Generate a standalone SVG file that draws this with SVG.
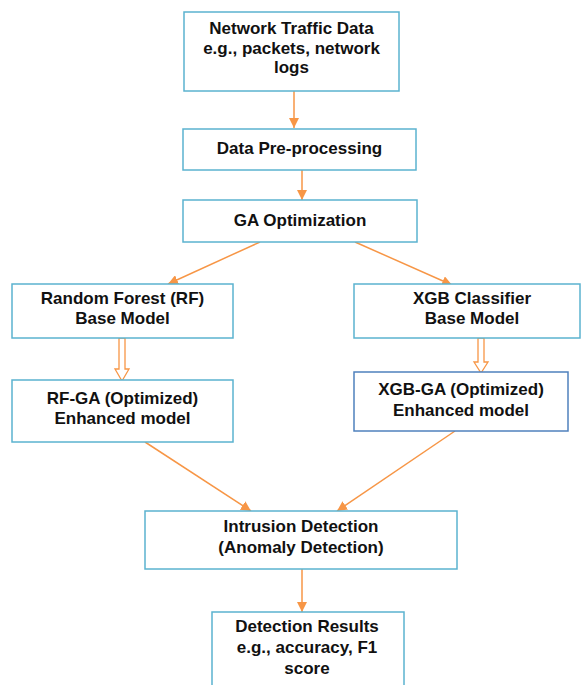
<svg xmlns="http://www.w3.org/2000/svg" width="581" height="685" viewBox="0 0 581 685">
<style>
.box{fill:#ffffff;stroke:#5bb3cf;stroke-width:1.5}
.box2{fill:#ffffff;stroke:#4f81bd;stroke-width:1.5}
.t{font-family:"Liberation Sans",Arial,sans-serif;font-weight:bold;font-size:17px;fill:#111111;text-anchor:middle}
.ln{stroke:#f79646;stroke-width:1.5;fill:none}
.hollow{fill:#ffffff;stroke:#f79646;stroke-width:1.3}
</style>
<defs>
<marker id="ah" viewBox="0 0 10 10" refX="10" refY="5" markerWidth="10" markerHeight="10" markerUnits="userSpaceOnUse" orient="auto">
<path d="M0,0 L10,5 L0,10 z" fill="#f79646"/>
</marker>
</defs>
<rect width="581" height="685" fill="#ffffff"/>
<g id="connectors">
<line class="ln" x1="294" y1="91" x2="294" y2="128" marker-end="url(#ah)"/>
<line class="ln" x1="302" y1="170" x2="302" y2="200" marker-end="url(#ah)"/>
<line class="ln" x1="260" y1="242" x2="168" y2="284" marker-end="url(#ah)"/>
<line class="ln" x1="355" y1="242" x2="452" y2="285" marker-end="url(#ah)"/>
<path class="hollow" d="M119,338 L125,338 L125,369 L129,369 L122,381 L115,369 L119,369 Z"/>
<path class="hollow" d="M478,338 L484,338 L484,362 L488,362 L481,373 L474,362 L478,362 Z"/>
<line class="ln" x1="145" y1="442" x2="251" y2="511" marker-end="url(#ah)"/>
<line class="ln" x1="455" y1="431" x2="337" y2="511" marker-end="url(#ah)"/>
<line class="ln" x1="302" y1="569" x2="302" y2="612" marker-end="url(#ah)"/>
</g>
<g id="n1">
<rect class="box" x="184" y="12" width="215" height="79"/>
<text class="t" x="291.5" y="34">Network Traffic Data</text>
<text class="t" x="291.5" y="54">e.g., packets, network</text>
<text class="t" x="291.5" y="73">logs</text>
</g>
<g id="n2">
<rect class="box" x="183" y="129" width="233" height="41"/>
<text class="t" x="299.5" y="154">Data Pre-processing</text>
</g>
<g id="n3">
<rect class="box" x="183" y="200" width="234" height="42"/>
<text class="t" x="300" y="226">GA Optimization</text>
</g>
<g id="n4">
<rect class="box" x="12" y="284" width="221" height="54"/>
<text class="t" x="122.5" y="304">Random Forest (RF)</text>
<text class="t" x="122.5" y="324">Base Model</text>
</g>
<g id="n5">
<rect class="box" x="354" y="284" width="226" height="54"/>
<text class="t" x="472" y="304">XGB Classifier</text>
<text class="t" x="472" y="324">Base Model</text>
</g>
<g id="n6">
<rect class="box" x="12" y="380" width="221" height="62"/>
<text class="t" x="122.5" y="404">RF-GA (Optimized)</text>
<text class="t" x="122.5" y="424">Enhanced model</text>
</g>
<g id="n7">
<rect class="box2" x="354" y="372" width="214" height="59"/>
<text class="t" x="461" y="395">XGB-GA (Optimized)</text>
<text class="t" x="461" y="415.5">Enhanced model</text>
</g>
<g id="n8">
<rect class="box" x="145" y="511" width="312" height="58"/>
<text class="t" x="301" y="532">Intrusion Detection</text>
<text class="t" x="301" y="553">(Anomaly Detection)</text>
</g>
<g id="n9">
<rect class="box" x="212" y="612" width="192" height="80"/>
<text class="t" x="307" y="632">Detection Results</text>
<text class="t" x="307" y="653">e.g., accuracy, F1</text>
<text class="t" x="307" y="674">score</text>
</g>
</svg>
